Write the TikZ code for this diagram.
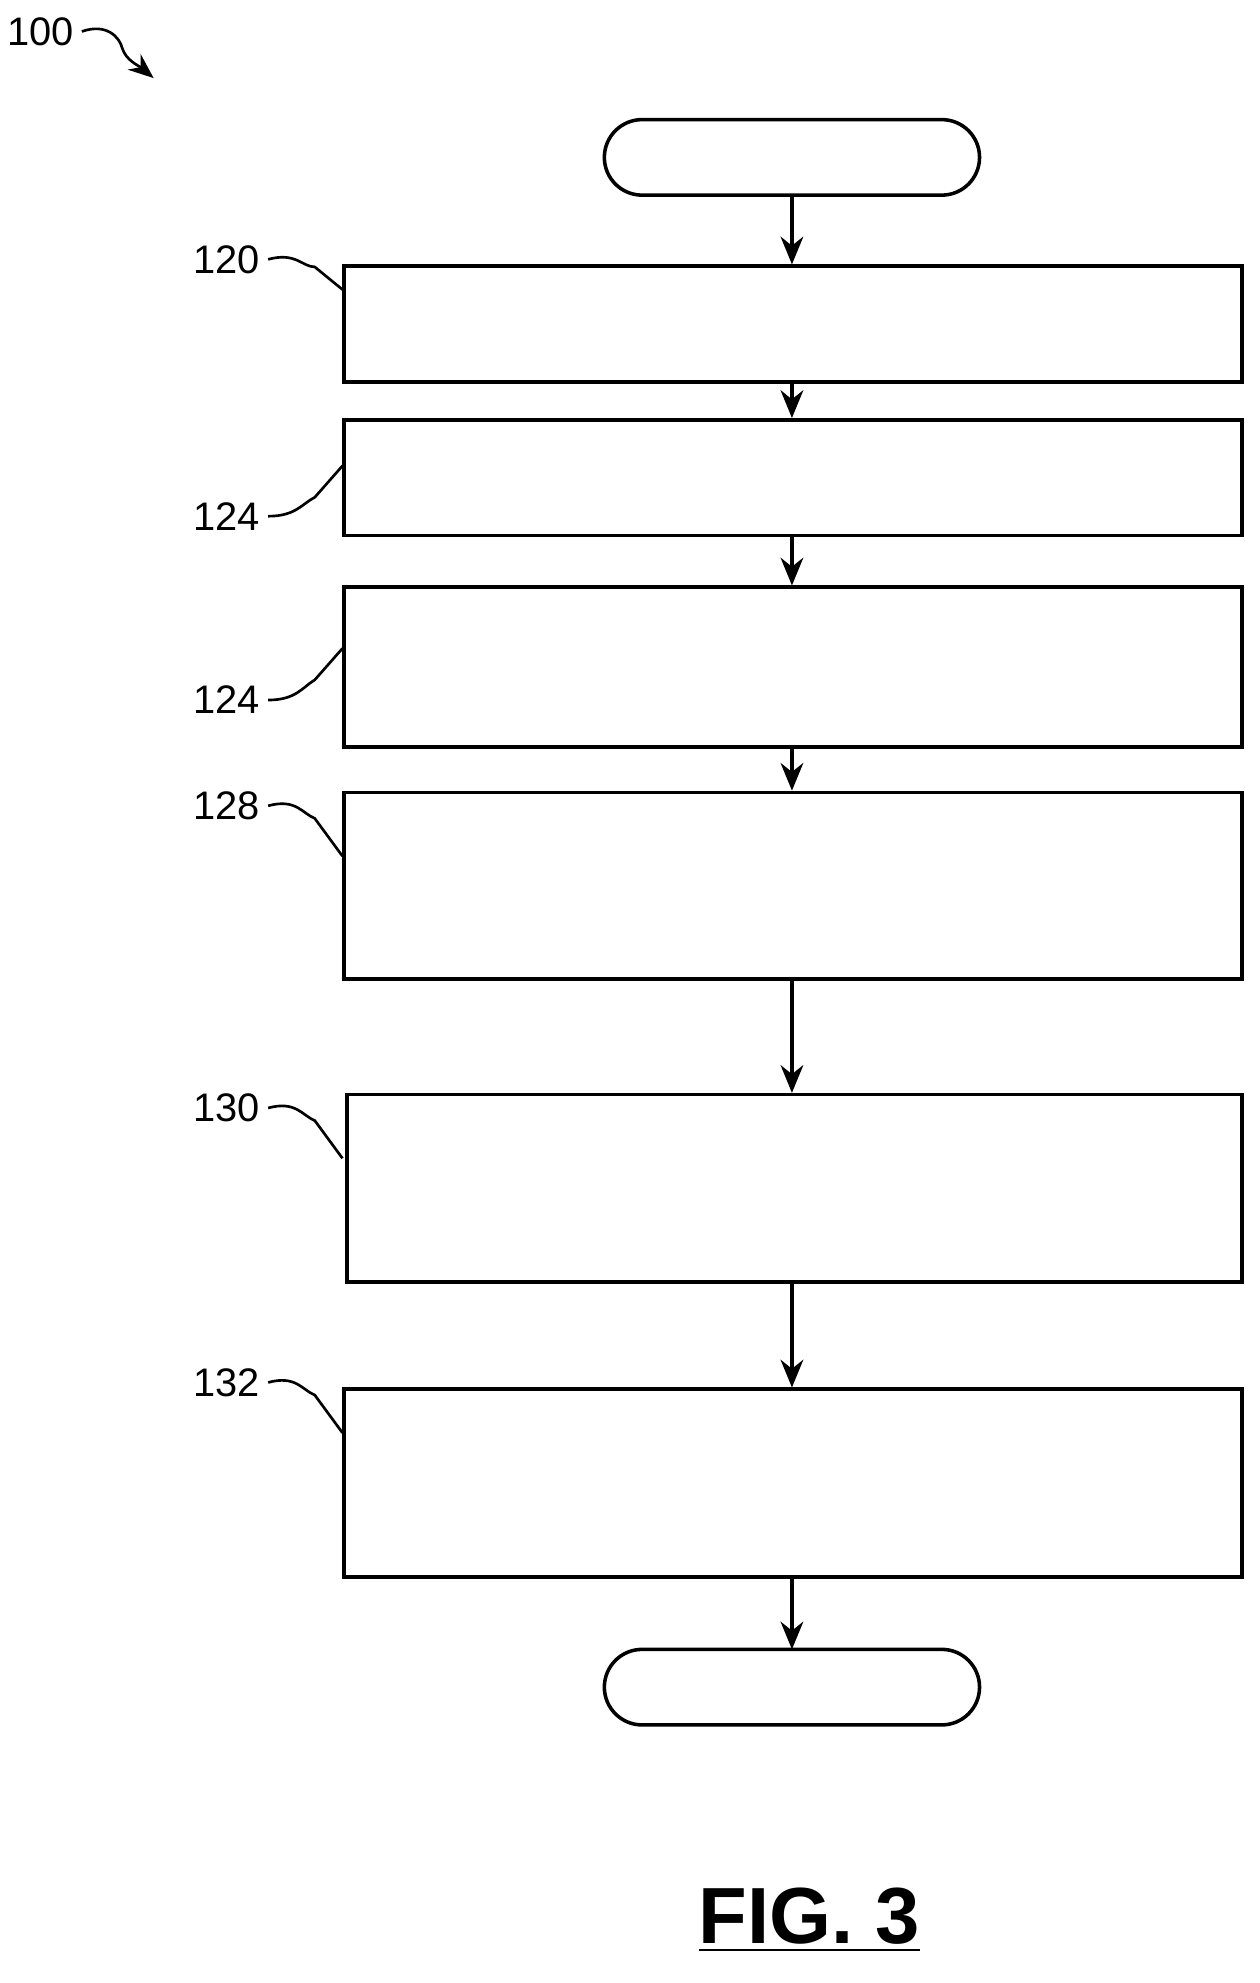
\documentclass[tikz,border=0pt]{standalone}
\usepackage{fontspec}
\setmainfont{Liberation Sans}
\usetikzlibrary{arrows.meta}
\begin{document}
\begin{tikzpicture}[x=0.1mm,y=-0.1mm,
  bx/.style={draw,line width=0.8pt},
  term/.style={draw,line width=0.8pt,rounded corners=3mm},
  arr/.style={line width=0.8pt,-{Stealth[length=2.2mm,width=1.8mm]}},
  lead/.style={line width=0.6pt},
  lbl/.style={font=\fontsize{9}{10}\selectfont,inner sep=0pt}]
\useasboundingbox (0,0) rectangle (1000,1575);
\draw[term] (480,95) rectangle (778,155); \coordinate (s) at (629,155);
\node[bx,minimum width=71.3mm,minimum height=9.2mm,anchor=north west] (b1) at (272,210) {};
\node[bx,minimum width=71.3mm,minimum height=9.2mm,anchor=north west] (b2) at (272,332) {};
\node[bx,minimum width=71.3mm,minimum height=12.7mm,anchor=north west] (b3) at (272,465) {};
\node[bx,minimum width=71.3mm,minimum height=14.8mm,anchor=north west] (b4) at (272,628) {};
\node[bx,minimum width=71.1mm,minimum height=14.9mm,anchor=north west] (b5) at (274,868) {};
\node[bx,minimum width=71.3mm,minimum height=14.9mm,anchor=north west] (b6) at (272,1102) {};
\draw[term] (480,1310) rectangle (778,1370); \coordinate (e) at (629,1310);
\draw[arr] (s) -- (629,210);
\draw[arr] (629,302) -- (629,332);
\draw[arr] (629,424) -- (629,465);
\draw[arr] (629,592) -- (629,628);
\draw[arr] (629,776) -- (629,868);
\draw[arr] (629,1017) -- (629,1102);
\draw[arr] (629,1251) -- (e);
% labels
\node[lbl,anchor=east] (l1) at (207,206) {120};
\draw[lead] (l1.east) ++(6,0) .. controls (235,200) and (240,212) .. (250,212) -- (272,230);
\node[lbl,anchor=east] (l2) at (207,410) {124};
\draw[lead] (l2.east) ++(6,0) .. controls (235,410) and (240,400) .. (250,395) -- (272,370);
\node[lbl,anchor=east] (l3) at (207,556) {124};
\draw[lead] (l3.east) ++(6,0) .. controls (235,556) and (240,546) .. (250,540) -- (272,515);
\node[lbl,anchor=east] (l4) at (207,640) {128};
\draw[lead] (l4.east) ++(6,0) .. controls (235,634) and (240,646) .. (250,650) -- (272,680);
\node[lbl,anchor=east] (l5) at (207,880) {130};
\draw[lead] (l5.east) ++(6,0) .. controls (235,874) and (240,886) .. (250,890) -- (272,920);
\node[lbl,anchor=east] (l6) at (207,1098) {132};
\draw[lead] (l6.east) ++(6,0) .. controls (235,1092) and (240,1104) .. (250,1108) -- (272,1138);
\node[lbl,anchor=west] (l0) at (5,25) {100};
\draw[lead,-{Stealth[length=2mm,width=1.6mm]}] (65,25) .. controls (85,18) and (95,30) .. (97,38) .. controls (100,48) and (110,52) .. (122,62);
\node[font=\bfseries\fontsize{18}{20}\selectfont,inner sep=0pt] (fig) at (643,1525) {\underline{FIG. 3}};
\end{tikzpicture}
\end{document}
